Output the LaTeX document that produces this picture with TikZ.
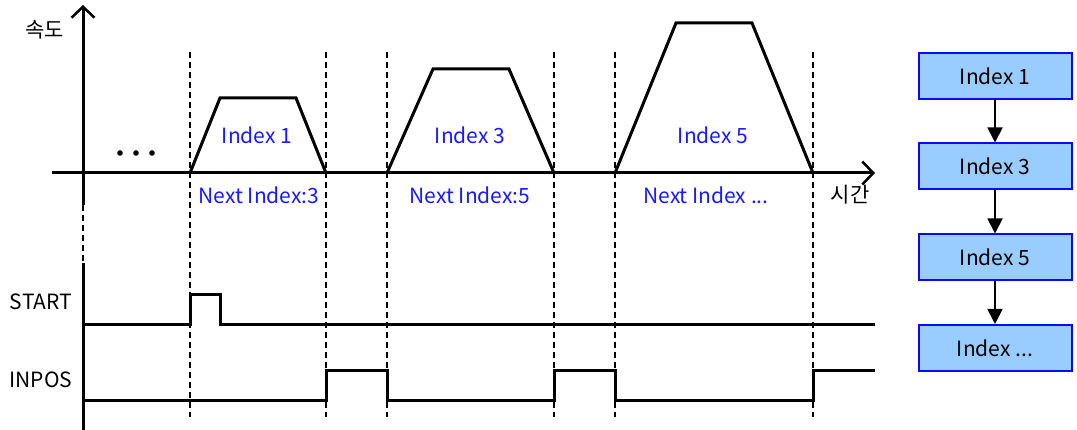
\documentclass[tikz,border=0pt]{standalone}
\usepackage{fontspec}
\setmainfont{Noto Sans CJK KR}
\usetikzlibrary{arrows.meta}
\definecolor{boxfill}{HTML}{99CCFF}
\definecolor{boxline}{HTML}{0A0AF5}
\definecolor{lbl}{HTML}{1A1AFF}
\tikzset{
  sig/.style={line width=3pt, line join=miter},
  guide/.style={line width=1.6pt, dash pattern=on 6pt off 4pt},
  axis/.style={line width=3pt, -{Straight Barb[length=11pt,width=23pt,line width=2.5pt]}},
  blab/.style={text=lbl, font=\fontsize{21}{23}\selectfont, inner sep=0pt},
  klab/.style={text=black, font=\fontsize{21}{23}\selectfont, inner sep=0pt},
  idx/.style={draw=boxline, line width=2pt, fill=boxfill, minimum width=153pt, minimum height=46pt, inner sep=0pt, font=\fontsize{21}{23}\selectfont},
  flow/.style={line width=1.8pt, -{Triangle[length=15pt,width=15pt]}}
}
\begin{document}
\begin{tikzpicture}[x=1pt,y=-1pt]
\useasboundingbox (0,0) rectangle (1077,430);
% guides
\foreach \gx in {190,326,387,554,615,813} \draw[guide] (\gx,52) -- (\gx,417);
\draw[guide] (83,205) -- (83,263);
% axes
\coordinate (yb) at (83,205);
\coordinate (yt) at (83,5);
\draw[axis] (yb) -- (yt);
\coordinate (xl) at (52,173);
\coordinate (xr) at (875,173);
\draw[axis] (xl) -- (xr);
\draw[line width=3pt] (83,263) -- (83,430);
% trapezoids
\draw[sig] (190,173) -- (220,98) -- (296,98) -- (326,173);
\draw[sig] (387,173) -- (433,69) -- (509,69) -- (554,173);
\draw[sig] (615,173) -- (676,23) -- (752,23) -- (813,173);
% dots
\foreach \dx in {120,136,152} \fill (\dx,153) circle (2.8pt);
% labels
\node[klab] (vel) at (45,30) {속도};
\node[klab] (tim) at (850,195) {시간};
\node[blab] (l1) at (257,135) {Index 1};
\node[blab] (l3) at (470,135) {Index 3};
\node[blab] (l5) at (713,135) {Index 5};
\node[blab] (n3) at (259,195) {Next Index:3};
\node[blab] (n5) at (470,195) {Next Index:5};
\node[blab] (nn) at (706,195) {Next Index ...};
% signals
\node[klab] (st) at (41,302) {START};
\node[klab] (ip) at (41,380) {INPOS};
\draw[sig] (83,325) -- (190,325) -- (190,295) -- (220,295) -- (220,325) -- (875,325);
\draw[sig] (83,401) -- (326,401) -- (326,371) -- (387,371) -- (387,401) -- (554,401) -- (554,371) -- (615,371) -- (615,401) -- (813,401) -- (813,371) -- (875,371);
% flow boxes
\node[idx] (b1) at (995,76) {Index 1};
\node[idx] (b2) at (995,166.5) {Index 3};
\node[idx] (b3) at (995,257.5) {Index 5};
\node[idx] (b4) at (995,348) {Index ...};
\draw[flow] (b1) -- (b2);
\draw[flow] (b2) -- (b3);
\draw[flow] (b3) -- (b4);
\end{tikzpicture}
\end{document}
